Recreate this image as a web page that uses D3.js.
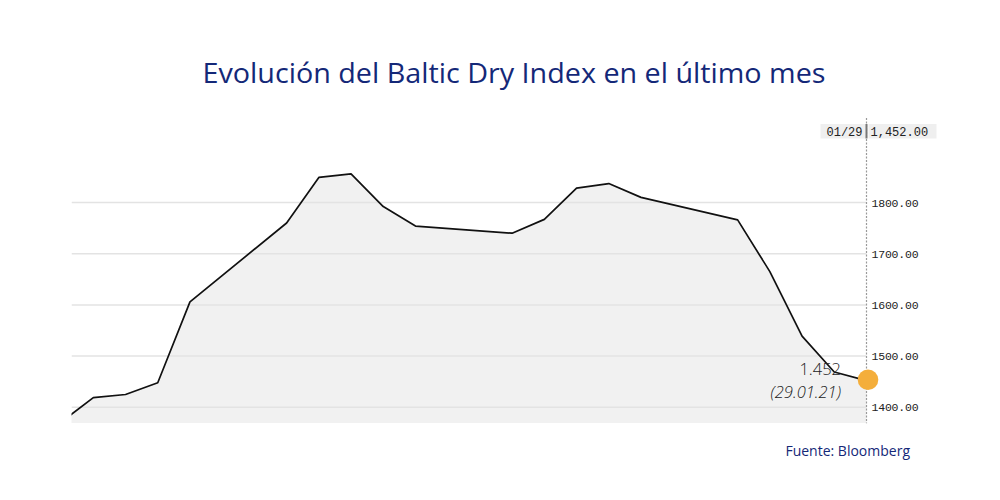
<!DOCTYPE html>
<html>
<head>
<meta charset="utf-8">
<script src="https://cdn.jsdelivr.net/npm/d3@7"></script>
<style>
  body { margin: 0; background: #fff; }
</style>
</head>
<body>
<svg id="chart" width="1000" height="500"></svg>
<script>
// trading day index (0 = last day of Dec, clipped off the left edge) and BDI close
var days   = [0,    1,    2,    3,    4,    7,    8,    9,    10,   11,   14,   15,   16,   17,   18,   21,   22,   23,   24,   25];
var values = [1371, 1419, 1425, 1448, 1606, 1760, 1849, 1856, 1792, 1754, 1740, 1767, 1828, 1837, 1810, 1766, 1665, 1539, 1469, 1452];
var yTicks = [1400, 1500, 1600, 1700, 1800];

var titleText = "Evolución del Baltic Dry Index en el último mes";
var sourceText = "Fuente: Bloomberg";
var lastValueLabel = "1.452";
var lastDateLabel = "(29.01.21)";
var headerDate = "01/29";
var headerValue = "1,452.00";

var svg = d3.select("#chart");

var plot = { left: 71.5, right: 866.5, top: 118, bottom: 423.3 };

var xScale = d3.scaleLinear().domain([0, 25]).range([61.1, plot.right]);
var yScale = d3.scaleLinear().domain([1400, 1800]).range([407.3, 202.5]);

var data = days.map(function(d, i) { return { day: d, value: values[i] }; });

svg.append("defs").append("clipPath")
    .attr("id", "plot_clip")
  .append("rect")
    .attr("x", plot.left)
    .attr("y", plot.top)
    .attr("width", plot.right - plot.left + 2)
    .attr("height", plot.bottom - plot.top);

// Title
svg.append("text")
    .attr("x", 514)
    .attr("y", 83)
    .attr("text-anchor", "middle")
    .attr("font-family", "'Open Sans', sans-serif")
    .attr("font-size", 28)
    .attr("fill", "#142878")
    .attr("textLength", 623)
    .attr("lengthAdjust", "spacingAndGlyphs")
    .text(titleText);

var plot_g = svg.append("g").attr("clip-path", "url(#plot_clip)");

// Area fill
var area = d3.area()
    .x(function(d) { return xScale(d.day); })
    .y0(plot.bottom)
    .y1(function(d) { return yScale(d.value); });

plot_g.append("path")
    .datum(data)
    .attr("fill", "#f1f1f1")
    .attr("d", area);

// Gridlines
plot_g.selectAll(".grid")
    .data(yTicks)
  .enter().append("line")
    .attr("class", "grid")
    .attr("x1", plot.left)
    .attr("x2", plot.right)
    .attr("y1", function(d) { return yScale(d); })
    .attr("y2", function(d) { return yScale(d); })
    .attr("stroke", "#e3e3e3")
    .attr("stroke-width", 1.5);

// Line
var line = d3.line()
    .x(function(d) { return xScale(d.day); })
    .y(function(d) { return yScale(d.value); });

plot_g.append("path")
    .datum(data)
    .attr("fill", "none")
    .attr("stroke", "#111")
    .attr("stroke-width", 1.7)
    .attr("stroke-linejoin", "round")
    .attr("d", line);

// Dotted cursor line
svg.append("line")
    .attr("x1", plot.right)
    .attr("x2", plot.right)
    .attr("y1", plot.top)
    .attr("y2", plot.bottom)
    .attr("stroke", "#999")
    .attr("stroke-width", 1.2)
    .attr("stroke-dasharray", "2,1.5");

// Y axis labels
var yAxis = d3.axisRight(yScale)
    .tickValues(yTicks)
    .tickSize(0)
    .tickPadding(0)
    .tickFormat(d3.format(".2f"));

var y_axis_g = svg.append("g")
    .attr("transform", "translate(" + (plot.right + 5) + ",0)")
    .call(yAxis);
y_axis_g.select(".domain").remove();
y_axis_g.selectAll("text")
    .attr("font-family", "'Liberation Mono', monospace")
    .attr("font-size", 11.5)
    .attr("letter-spacing", -0.2)
    .attr("fill", "#222");

// Header box with date and value
svg.append("rect")
    .attr("x", 820.5)
    .attr("y", 124)
    .attr("width", plot.right - 820.5)
    .attr("height", 14.5)
    .attr("fill", "#efefef");
svg.append("rect")
    .attr("x", plot.right + 2)
    .attr("y", 124)
    .attr("width", 68)
    .attr("height", 14.5)
    .attr("fill", "#efefef");
svg.append("line")
    .attr("x1", plot.right)
    .attr("x2", plot.right)
    .attr("y1", 124)
    .attr("y2", 138.5)
    .attr("stroke", "#777")
    .attr("stroke-width", 2);
svg.append("text")
    .attr("x", plot.right - 4)
    .attr("y", 135.5)
    .attr("text-anchor", "end")
    .attr("font-family", "'Liberation Mono', monospace")
    .attr("font-size", 12)
    .attr("fill", "#222")
    .text(headerDate);
svg.append("text")
    .attr("x", plot.right + 4)
    .attr("y", 135.5)
    .attr("font-family", "'Liberation Mono', monospace")
    .attr("font-size", 12)
    .attr("fill", "#222")
    .text(headerValue);

// Last point marker
var last = data[data.length - 1];
svg.append("circle")
    .attr("cx", xScale(last.day) + 1.5)
    .attr("cy", yScale(last.value) - 1)
    .attr("r", 10.3)
    .attr("fill", "#f4ae3b");

// Annotation
svg.append("text")
    .attr("x", 841)
    .attr("y", 375)
    .attr("text-anchor", "end")
    .attr("font-family", "'Open Sans', sans-serif")
    .attr("font-weight", 300)
    .attr("font-size", 16.5)
    .attr("fill", "#222")
    .text(lastValueLabel);
svg.append("text")
    .attr("x", 841)
    .attr("y", 397.5)
    .attr("text-anchor", "end")
    .attr("font-family", "'Open Sans', sans-serif")
    .attr("font-weight", 300)
    .attr("font-style", "italic")
    .attr("font-size", 16.5)
    .attr("fill", "#222")
    .text(lastDateLabel);

// Source
svg.append("text")
    .attr("x", 910)
    .attr("y", 456)
    .attr("text-anchor", "end")
    .attr("font-family", "'Open Sans', sans-serif")
    .attr("font-size", 14)
    .attr("fill", "#142878")
    .text(sourceText);
</script>
</body>
</html>
